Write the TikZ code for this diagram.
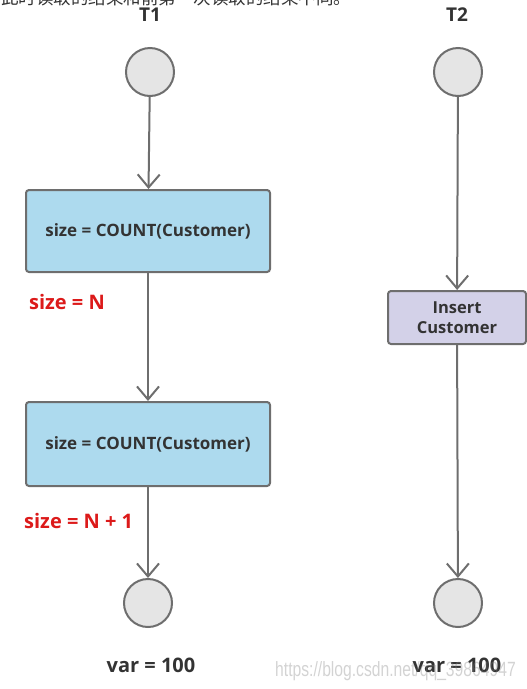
\documentclass[tikz,border=0pt]{standalone}
\usepackage{fontspec}
\setmainfont{Open Sans}
\newfontfamily\cjk{Noto Sans CJK SC}
\newfontfamily\wmfont{Liberation Sans}
\usetikzlibrary{arrows.meta}
\definecolor{boxblue}{HTML}{ADDAEE}
\definecolor{lavender}{HTML}{D3D1E8}
\definecolor{edgegray}{HTML}{6E6E6E}
\definecolor{circfill}{HTML}{E5E5E5}
\definecolor{redtxt}{HTML}{DC1A1A}
\definecolor{txtgray}{HTML}{333333}
\tikzset{
  circ/.style={circle, minimum size=48pt, inner sep=0pt, draw=edgegray, line width=2pt, fill=circfill},
  procbox/.style={rectangle, rounded corners=3pt, draw=edgegray, line width=2pt, text=txtgray,
    font=\bfseries\fontsize{17}{19.5}\selectfont, align=center, inner sep=0pt},
  lbl/.style={text=txtgray, font=\bfseries\fontsize{19}{22}\selectfont, inner sep=0pt},
  redlbl/.style={text=redtxt, font=\bfseries\fontsize{20}{22}\selectfont, inner sep=0pt, anchor=base west},
  arr/.style={draw=edgegray, line width=2pt, -{Straight Barb[length=13pt,width=22pt,line width=2pt]}}
}
\begin{document}
\begin{tikzpicture}[x=1pt,y=-1pt]
\useasboundingbox (0,0) rectangle (527,689);
\clip (0,0) rectangle (527,689);
\node[anchor=base west, font=\cjk\fontsize{17.5}{18}\selectfont, text=txtgray, inner sep=0pt] (cn) at (1,4) {此时读取的结果和前第一次读取的结果不同。};
\node[lbl, anchor=base] (t1) at (150,21) {T1};
\node[lbl, anchor=base] (t2) at (457,21) {T2};
\node[circ] (c1) at (150,72) {};
\node[procbox, fill=boxblue, minimum width=244pt, minimum height=82pt] (b1) at (148,231) {size = COUNT(Customer)};
\node[procbox, fill=boxblue, minimum width=244pt, minimum height=84pt] (b2) at (148,444) {size = COUNT(Customer)};
\node[circ] (c2) at (148,603) {};
\node[circ] (c3) at (458,72) {};
\node[procbox, fill=lavender, minimum width=138pt, minimum height=53pt, font=\bfseries\fontsize{16.5}{19.5}\selectfont] (b3) at (457,317.5) {Insert\\Customer};
\node[circ] (c4) at (458,603) {};
\draw[arr] (c1) -- (b1);
\draw[arr] (b1) -- (b2);
\draw[arr] (b2) -- (c2);
\draw[arr] (c3) -- (b3);
\draw[arr] (b3) -- (c4);
\node[redlbl] (s1) at (29,309) {size = N};
\node[redlbl] (s2) at (24,528) {size = N + 1};
\node[lbl, font=\bfseries\fontsize{20}{22}\selectfont, anchor=base] (v1) at (151,672) {var = 100};
\node[lbl, font=\bfseries\fontsize{20}{22}\selectfont, anchor=base] (v2) at (457,672) {var = 100};
\node[anchor=base west, font=\wmfont\fontsize{16.5}{18}\selectfont, text=gray, opacity=0.35, inner sep=0pt] (wm) at (275,676) {\scalebox{0.95}[1.25]{https://blog.csdn.net/qq\_39864947}};
\end{tikzpicture}
\end{document}
